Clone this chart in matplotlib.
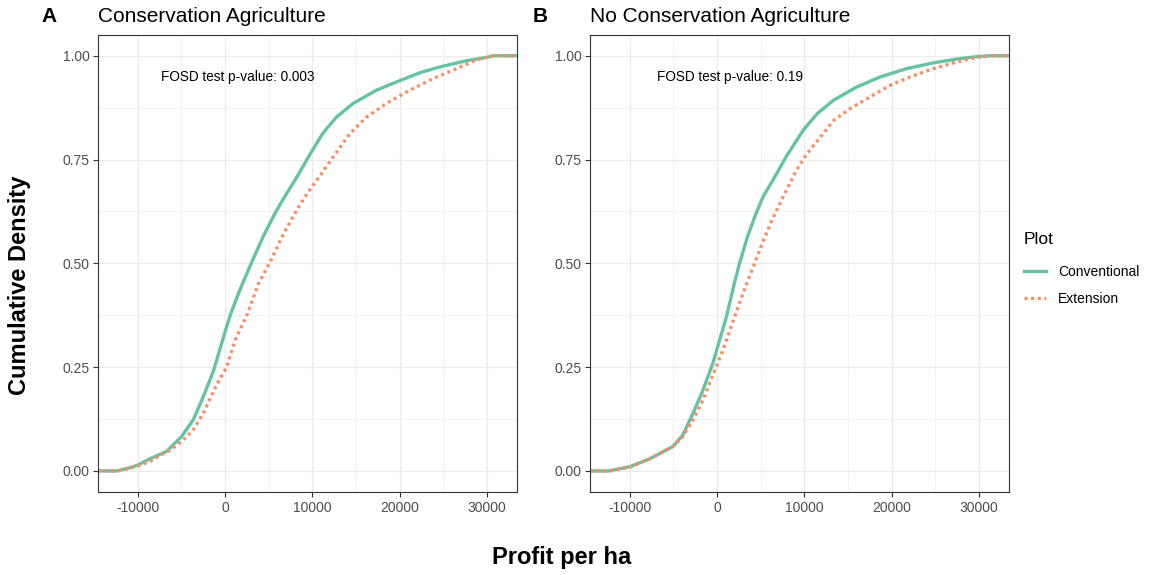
import matplotlib
matplotlib.use("Agg")
import matplotlib.pyplot as plt
from matplotlib.lines import Line2D
from matplotlib.ticker import FixedLocator

plt.rcParams['font.family'] = ['Liberation Sans', 'DejaVu Sans']

# ---------------- data ----------------
panel_labels = ["A", "B"]
panel_titles = ["Conservation Agriculture", "No Conservation Agriculture"]
pvalue_texts = ["FOSD test p-value: 0.003", "FOSD test p-value: 0.19"]
series_names = ["Conventional", "Extension"]

ca_conv_x = [-12400, -11000, -9940, -8620, -6700, -4980, -3640, -2490, -1340, -383, 575, 1620,
             3000, 4400, 5700, 6700, 8230, 9770, 11220, 12750, 14660, 17330, 20010, 22300,
             24590, 27650, 29940, 30700]
ca_conv_y = [0.0, 0.007, 0.0145, 0.029, 0.047, 0.083, 0.123, 0.179, 0.240, 0.308, 0.374, 0.432,
             0.500, 0.566, 0.620, 0.656, 0.708, 0.764, 0.814, 0.852, 0.885, 0.917, 0.940, 0.959,
             0.973, 0.988, 0.996, 1.0]

ca_ext_x = [-12400, -11000, -9940, -8620, -6320, -4980, -3640, -2490, -958, 190, 1155, 2500,
            3850, 5200, 6740, 8400, 9310, 10840, 12370, 14280, 16190, 18480, 21150, 23830,
            26500, 28790, 30700]
ca_ext_y = [0.0, 0.006, 0.0125, 0.023, 0.050, 0.071, 0.099, 0.139, 0.208, 0.25, 0.315, 0.375,
            0.452, 0.505, 0.573, 0.635, 0.665, 0.710, 0.756, 0.812, 0.852, 0.885, 0.917, 0.945,
            0.969, 0.990, 1.0]

nca_conv_x = [-12400, -10010, -7720, -5040, -3900, -2750, -1700, -500, 305, 1120, 2020, 2580,
              3500, 4500, 5270, 6800, 7950, 9920, 11450, 13350, 16020, 18690, 21730, 24780,
              27450, 29740, 31260]
nca_conv_y = [0.0, 0.010, 0.029, 0.059, 0.087, 0.139, 0.190, 0.258, 0.316, 0.375, 0.455, 0.500,
              0.565, 0.622, 0.660, 0.715, 0.758, 0.822, 0.860, 0.893, 0.925, 0.949, 0.969, 0.983,
              0.992, 0.998, 1.0]

nca_ext_x = [-12400, -10010, -7720, -5040, -3900, -2750, -1600, -460, 690, 1830, 2980, 4300,
             5270, 6420, 7560, 9090, 10300, 11830, 13350, 15260, 17540, 19830, 22120, 24780,
             27450, 29740, 31260]
nca_ext_y = [0.0, 0.009, 0.029, 0.059, 0.083, 0.123, 0.171, 0.232, 0.292, 0.360, 0.428, 0.500,
             0.553, 0.610, 0.660, 0.724, 0.764, 0.804, 0.844, 0.873, 0.901, 0.929, 0.949, 0.969,
             0.985, 0.996, 1.0]

x_ticks = [-10000, 0, 10000, 20000, 30000]
x_minor = [-5000, 5000, 15000, 25000]
y_ticks = [0.0, 0.25, 0.5, 0.75, 1.0]
y_minor = [0.125, 0.375, 0.625, 0.875]
x_limits = (-14550, 33440)
y_limits = (-0.05, 1.05)
pvalue_pos = (1500, 0.95)

panels = [
    [(ca_conv_x, ca_conv_y), (ca_ext_x, ca_ext_y)],
    [(nca_conv_x, nca_conv_y), (nca_ext_x, nca_ext_y)],
]

# ---------------- styling ----------------
W, H = 1151, 575
colors = ["#66C2A5", "#FC8D62"]
styles = ["-", (0, (0.9, 1.1))]
lw = 2.4
grid_col = "#EBEBEB"
dark = "#333333"
tick_col = "#4D4D4D"

fig = plt.figure(figsize=(W / 100, H / 100), dpi=100)

def px_axes(left, top, right, bottom):
    return fig.add_axes([left / W, 1 - bottom / H, (right - left) / W, (bottom - top) / H])

axes_px = [(98, 35, 517, 491.7), (590, 35, 1009, 491.7)]

for i, (ax_box, series) in enumerate(zip(axes_px, panels)):
    ax = px_axes(*ax_box)
    ax.set_xlim(*x_limits)
    ax.set_ylim(*y_limits)
    ax.set_facecolor("white")
    ax.xaxis.set_major_locator(FixedLocator(x_ticks))
    ax.yaxis.set_major_locator(FixedLocator(y_ticks))
    ax.xaxis.set_minor_locator(FixedLocator(x_minor))
    ax.yaxis.set_minor_locator(FixedLocator(y_minor))
    ax.set_xticklabels([str(v) for v in x_ticks])
    ax.set_yticklabels([f"{v:.2f}" for v in y_ticks])
    ax.grid(True, which="major", color=grid_col, linewidth=1.0)
    ax.grid(True, which="minor", color=grid_col, linewidth=0.5)
    ax.set_axisbelow(True)
    ax.tick_params(which="major", length=3.3, width=0.8, color=dark, labelsize=10,
                   labelcolor=tick_col, pad=2.5)
    ax.tick_params(axis="x", which="major", pad=3.5)
    ax.tick_params(which="minor", length=0)
    for sp in ax.spines.values():
        sp.set_color(dark)
        sp.set_linewidth(0.8)

    xl = ax.get_xlim()
    for (xs, ys), c, ls in zip(series, colors, styles):
        xx = [xl[0]] + list(xs) + [xl[1]]
        yy = [ys[0]] + list(ys) + [ys[-1]]
        ax.plot(xx, yy, color=c, linestyle=ls, linewidth=lw, clip_on=True,
                solid_joinstyle="round")

    ax.text(pvalue_pos[0], pvalue_pos[1], pvalue_texts[i], ha="center", va="center",
            fontsize=9.8, color="black")

    # panel tag and title
    fig.text((ax_box[0] - 57) / W, 1 - 21.7 / H, panel_labels[i], fontsize=15,
             fontweight="bold", ha="left", va="baseline")
    fig.text(ax_box[0] / W, 1 - 21.7 / H, panel_titles[i], fontsize=15,
             ha="left", va="baseline")

# axis titles
fig.text(20 / W, 1 - 285 / H, "Cumulative Density", rotation=90, fontsize=17,
         fontweight="bold", ha="center", va="center")
fig.text(562 / W, 1 - 564 / H, "Profit per ha", fontsize=17, fontweight="bold",
         ha="center", va="baseline")

# legend
handles = [Line2D([0], [0], color=c, linestyle=ls, linewidth=lw) for c, ls in zip(colors, styles)]
leg = fig.legend(handles, series_names, title="Plot", loc="upper left",
                 bbox_to_anchor=(1024 / W, 1 - 232 / H), frameon=False,
                 fontsize=10, title_fontsize=12.5, handlelength=1.6, handletextpad=0.85,
                 labelspacing=0.95, borderaxespad=0, borderpad=0)
leg._legend_box.align = "left"
leg._legend_box.sep = 13

fig.savefig("out.png", dpi=100)
